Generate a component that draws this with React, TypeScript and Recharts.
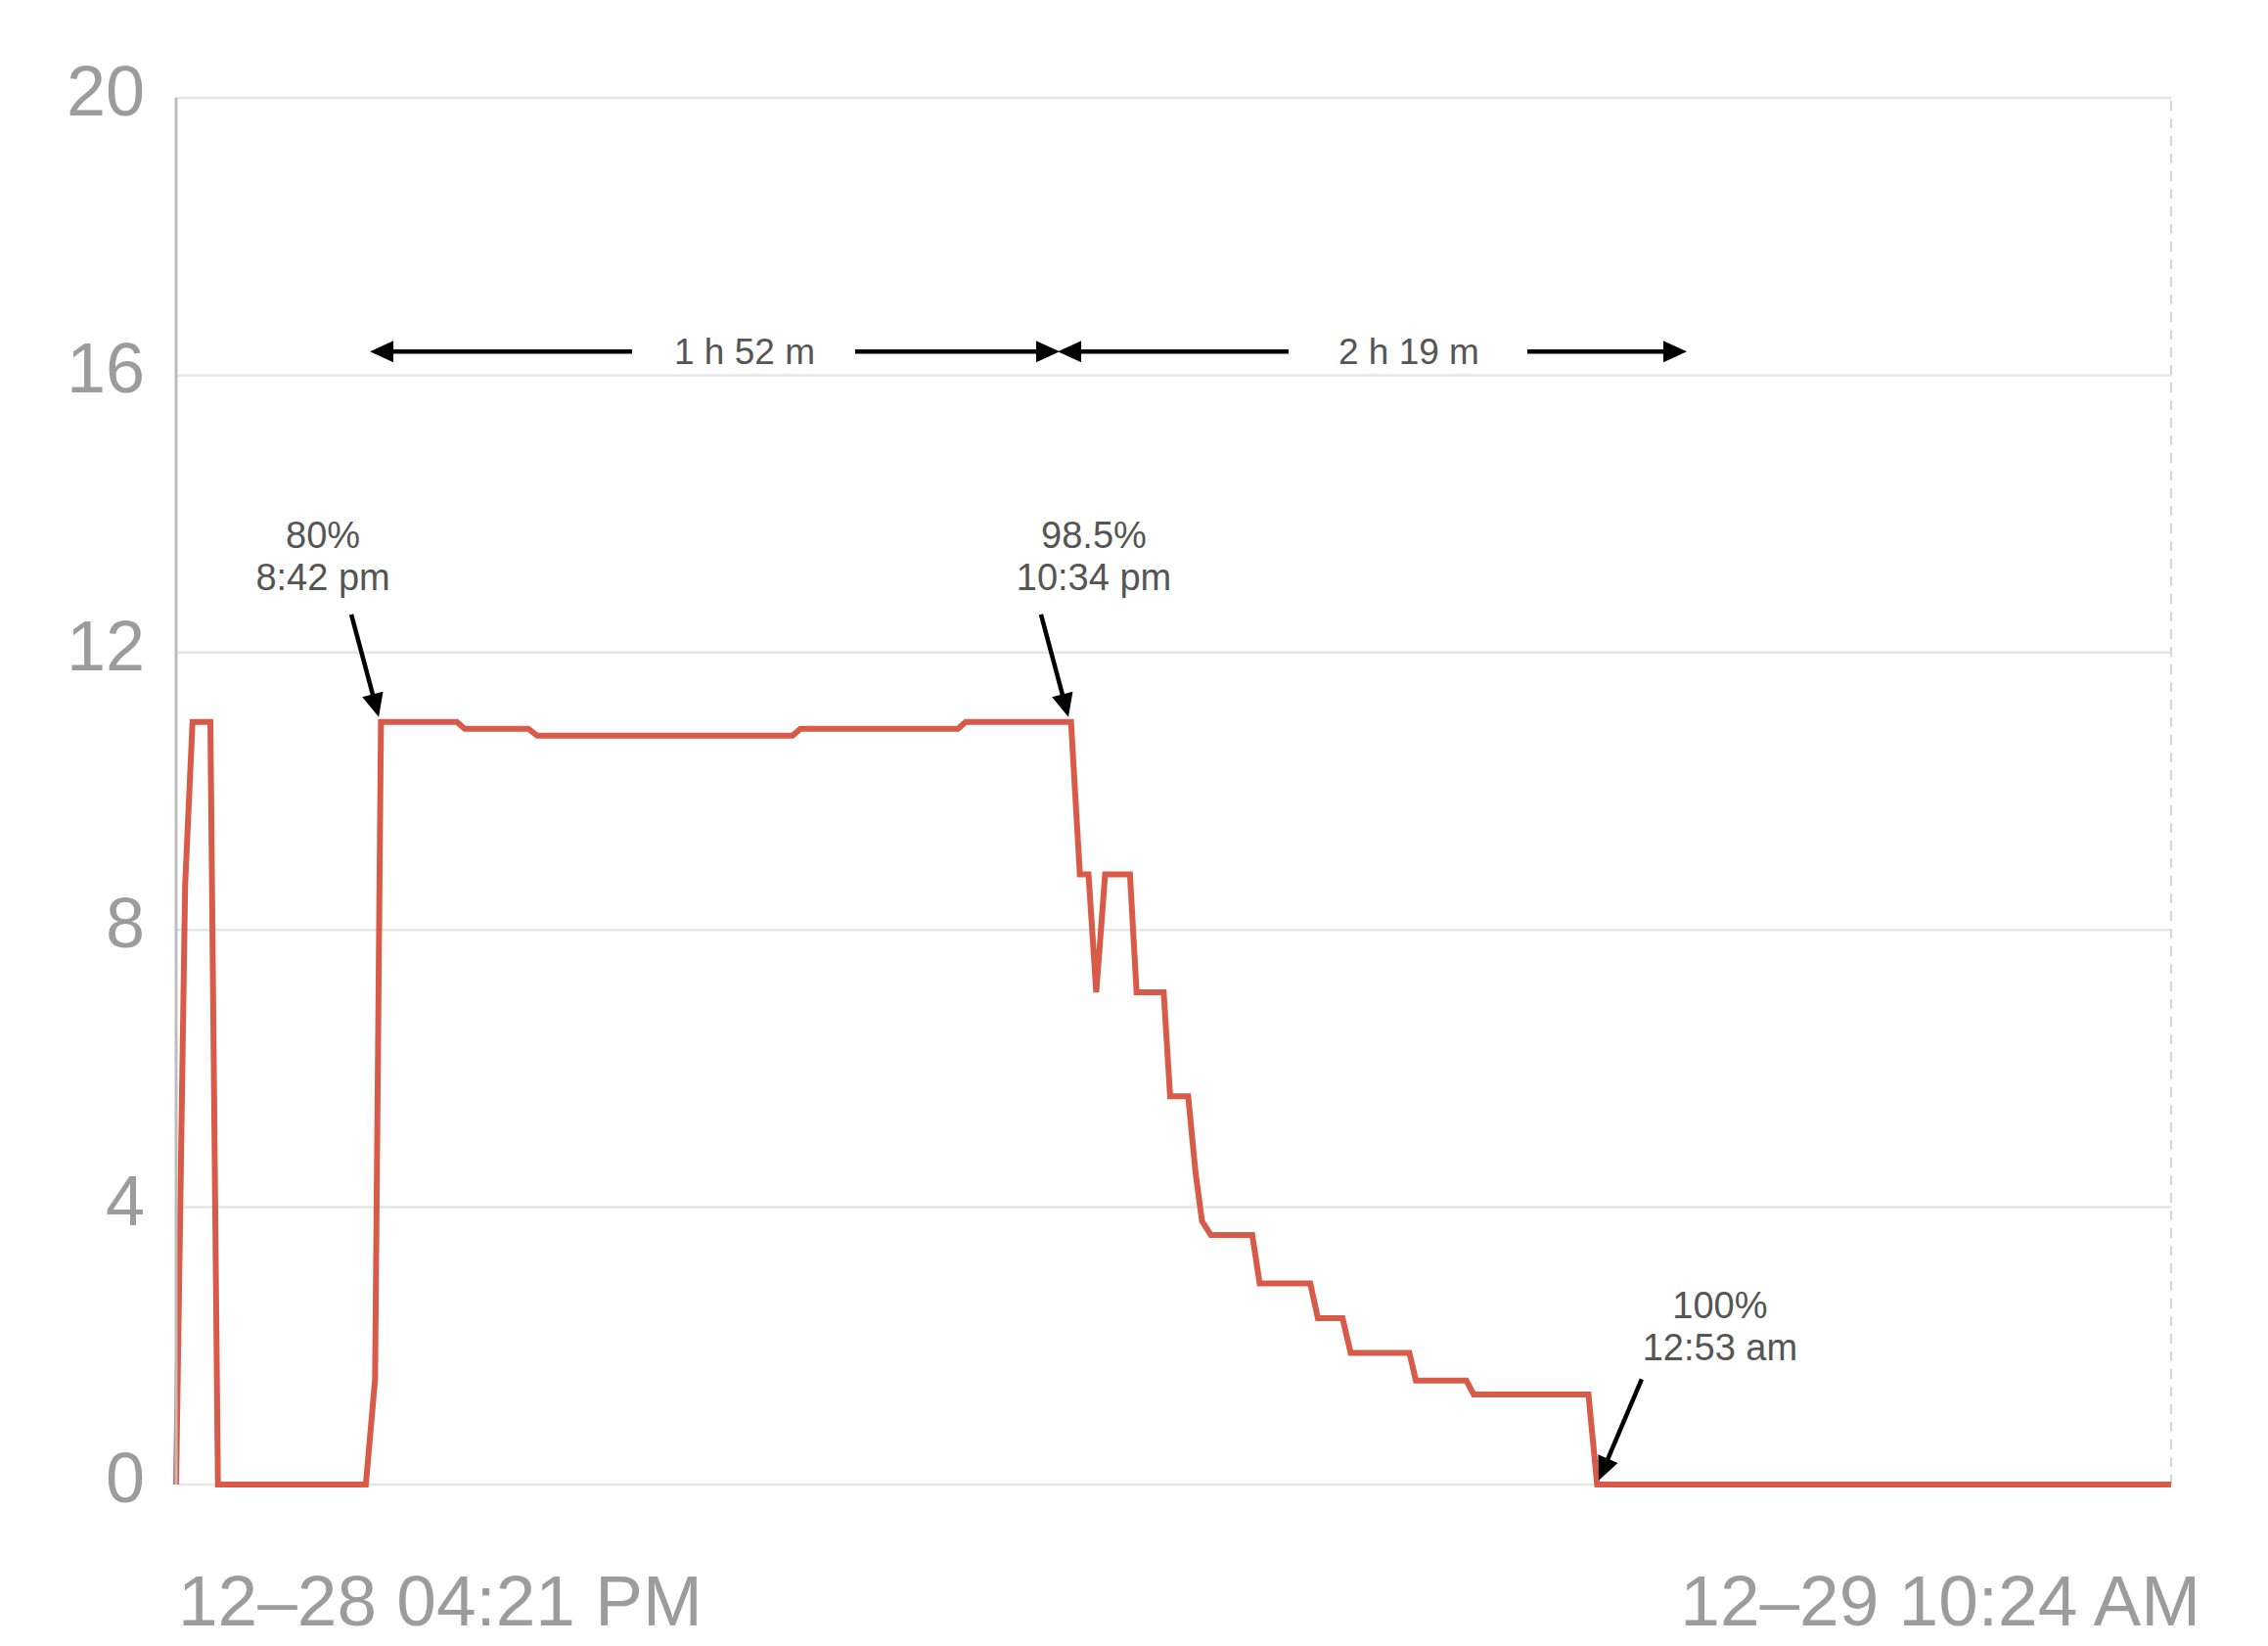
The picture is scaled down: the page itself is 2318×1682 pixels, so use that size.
import React from 'react';
import { LineChart, Line, XAxis, YAxis, CartesianGrid, ReferenceLine, ReferenceDot } from 'recharts';

// minutes since 12-28 04:21 PM
const times = [0, 4.9, 8.9, 18.6, 22.7, 103.0, 108.0, 111.2, 152.4, 156.7, 191.2, 196.0, 334.6, 338.9, 424.4, 428.6, 485.8, 490.6, 495.3, 499.5, 504.3, 517.8, 521.4, 536.1, 539.6, 549.4, 553.4, 556.9, 561.7, 584.2, 588.2, 615.7, 619.8, 633.2, 637.6, 669.5, 673.0, 700.4, 704.4, 766.7, 771.4, 1083];
const power = [0, 8.65, 11, 11, 0, 0, 1.52, 11, 11, 10.9, 10.9, 10.8, 10.8, 10.9, 10.9, 11, 11, 8.8, 8.8, 7.1, 8.8, 8.8, 7.1, 7.1, 5.6, 5.6, 4.5, 3.8, 3.6, 3.6, 2.9, 2.9, 2.4, 2.4, 1.9, 1.9, 1.5, 1.5, 1.3, 1.3, 0, 0];

const yTicks = [0, 4, 8, 12, 16, 20];
const xTicks = [0, 1083];
const xTickLabels = ['12–28 04:21 PM', '12–29 10:24 AM'];

// duration spans (double arrows with centred label)
const spanLevel = 16.34;
const spanLabelLevel = 16.16;
const spans = [
  { from: 105.2, gapStart: 247.5, gapEnd: 368.6, to: 479.6, labelAt: 308.6, label: '1 h 52 m' },
  { from: 478.6, gapStart: 603.9, gapEnd: 733.5, to: 820.1, labelAt: 669.2, label: '2 h 19 m' },
];

// pointer annotations
const callouts = [
  { line1: '80%', line2: '8:42 pm', textAt: 79.7, y1: 13.51, y2: 12.90, fromX: 95.1, fromY: 12.55, toX: 110.0, toY: 11.07 },
  { line1: '98.5%', line2: '10:34 pm', textAt: 498.2, y1: 13.51, y2: 12.90, fromX: 469.5, fromY: 12.55, toX: 484.4, toY: 11.07 },
  { line1: '100%', line2: '12:53 am', textAt: 838.1, y1: 2.40, y2: 1.79, fromX: 795.6, fromY: 1.52, toX: 772.3, toY: 0.06 },
];

const data = times.map((t, i) => ({ t, p: power[i] }));

const FONT = '"Liberation Sans", Arial, Helvetica, sans-serif';
const AXIS_GRAY = '#9c9c9c';
const NOTE_GRAY = '#555555';

const YTick = (props: any) => {
  const { x, y, payload } = props;
  return (
    <text x={x - 32} y={y + 18} textAnchor="end" fontSize={72} fill={AXIS_GRAY} fontFamily={FONT}>
      {payload.value}
    </text>
  );
};

const XTick = (props: any) => {
  const { x, y, payload } = props;
  const idx = xTicks.indexOf(payload.value);
  const isFirst = idx === 0;
  return (
    <text
      x={isFirst ? x + 2 : x + 30}
      y={y + 144}
      textAnchor={isFirst ? 'start' : 'end'}
      fontSize={73}
      fill={AXIS_GRAY}
      fontFamily={FONT}
    >
      {xTickLabels[idx]}
    </text>
  );
};

const arrowShape = (p: any) => {
  const { x1, y1, x2, y2 } = p;
  const dx = x2 - x1;
  const dy = y2 - y1;
  const len = Math.hypot(dx, dy) || 1;
  const ux = dx / len;
  const uy = dy / len;
  const hl = 24;
  const hw = 11;
  const bx = x2 - ux * hl;
  const by = y2 - uy * hl;
  const px = -uy;
  const py = ux;
  return (
    <g>
      <line x1={x1} y1={y1} x2={bx + ux * 2} y2={by + uy * 2} stroke="#000" strokeWidth={4.5} />
      <polygon points={`${x2},${y2} ${bx + px * hw},${by + py * hw} ${bx - px * hw},${by - py * hw}`} fill="#000" />
    </g>
  );
};

const textShape = (label: string, size: number) => (p: any) => (
  <text x={p.cx} y={p.cy} textAnchor="middle" fontSize={size} fill={NOTE_GRAY} fontFamily={FONT}>
    {label}
  </text>
);

export default function App() {
  return (
    <div style={{ width: 2310, height: 1674, background: '#fff' }}>
      <LineChart width={2310} height={1674} data={data} margin={{ top: 92, right: 99, bottom: 0, left: 0 }}>
        <CartesianGrid vertical={false} stroke="#e6e6e6" strokeWidth={2.5} />
        <XAxis
          dataKey="t"
          type="number"
          domain={[0, 1083]}
          ticks={xTicks}
          interval={0}
          axisLine={false}
          tickLine={false}
          tickSize={0}
          tickMargin={0}
          height={165}
          tick={<XTick />}
        />
        <YAxis
          type="number"
          domain={[0, 20]}
          ticks={yTicks}
          interval={0}
          width={172}
          axisLine={{ stroke: '#bdbdbd', strokeWidth: 3 }}
          tickLine={false}
          tickSize={0}
          tickMargin={0}
          tick={<YTick />}
        />
        <ReferenceLine x={1083} stroke="#d6d6d6" strokeWidth={2} strokeDasharray="10 8" />
        <Line
          type="linear"
          dataKey="p"
          stroke="#d85a48"
          strokeWidth={6}
          strokeLinejoin="miter"
          strokeMiterlimit={4}
          dot={false}
          activeDot={false}
          isAnimationActive={false}
        />
        {spans.map((s, i) => (
          <ReferenceLine
            key={`sl${i}`}
            segment={[{ x: s.gapStart, y: spanLevel }, { x: s.from, y: spanLevel }]}
            shape={arrowShape}
          />
        ))}
        {spans.map((s, i) => (
          <ReferenceLine
            key={`sr${i}`}
            segment={[{ x: s.gapEnd, y: spanLevel }, { x: s.to, y: spanLevel }]}
            shape={arrowShape}
          />
        ))}
        {spans.map((s, i) => (
          <ReferenceDot key={`st${i}`} x={s.labelAt} y={spanLabelLevel} r={0} shape={textShape(s.label, 37)} />
        ))}
        {callouts.map((c, i) => (
          <ReferenceLine
            key={`ca${i}`}
            segment={[{ x: c.fromX, y: c.fromY }, { x: c.toX, y: c.toY }]}
            shape={arrowShape}
          />
        ))}
        {callouts.map((c, i) => (
          <ReferenceDot key={`c1${i}`} x={c.textAt} y={c.y1} r={0} shape={textShape(c.line1, 38)} />
        ))}
        {callouts.map((c, i) => (
          <ReferenceDot key={`c2${i}`} x={c.textAt} y={c.y2} r={0} shape={textShape(c.line2, 38)} />
        ))}
      </LineChart>
    </div>
  );
}
